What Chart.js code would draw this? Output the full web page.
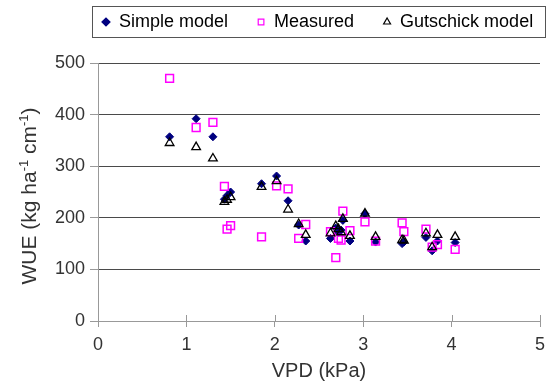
<!DOCTYPE html>
<html>
<head>
<meta charset="utf-8">
<script src="https://cdn.jsdelivr.net/npm/chart.js@4.4.1/dist/chart.umd.min.js"></script>
<style>
  body { margin: 0; background: #fff; }
  canvas { display: block; }
</style>
</head>
<body>
<canvas id="wuechart" width="547" height="383"></canvas>
<script>
// VPD (kPa) of each observation, shared by all three series
const vpd = [0.81, 1.11, 1.30, 1.43, 1.46, 1.50, 1.85, 2.02, 2.15, 2.27, 2.35, 2.63, 2.69,
             2.72, 2.75, 2.77, 2.85, 3.02, 3.14, 3.44, 3.46, 3.71, 3.78, 3.84, 4.04];

// WUE (kg ha-1 cm-1)
const simpleModel = [357, 392, 357, 236, 243, 250, 266, 281, 233, 186, 155, 160, 180,
                     172, 176, 195, 155, 208, 153, 150, 153, 162, 136, 155, 152];
const measured = [470, 375, 385, 261, 178, 185, 163, 262, 256, 160, 187, 173, 123,
                  160, 157, 213, 175, 192, 155, 190, 173, 178, 143, 148, 139];
const gutschickModel = [345, 337, 315, 231, 235, 240, 260, 271, 216, 188, 167, 170, 184,
                        178, 172, 198, 165, 208, 163, 157, 156, 170, 143, 167, 163];

const seriesNames = ['Simple model', 'Measured', 'Gutschick model'];
const xTicks = [0, 1, 2, 3, 4, 5];
const yTicks = [0, 100, 200, 300, 400, 500];

const fontFamily = '"Liberation Sans", Arial, sans-serif';
const textColor = '#333';
const axisColor = '#999';

function points(values) {
    return vpd.map(function (x, i) { return { x: x, y: values[i] }; });
}

// legend in a framed box above the plot
const boxLegend = {
    id: 'boxLegend',
    afterDraw: function (chart) {
        const ctx = chart.ctx;
        const area = chart.chartArea;
        ctx.save();
        ctx.strokeStyle = '#555';
        ctx.lineWidth = 1;
        ctx.strokeRect(area.left - 5.5, 6.5, chart.width - area.left + 4, 31);

        ctx.font = '18px ' + fontFamily;
        ctx.textBaseline = 'middle';
        ctx.textAlign = 'left';
        let x = area.left + 8;
        const y = 22;
        chart.data.datasets.forEach(function (ds) {
            ctx.fillStyle = ds.pointBackgroundColor;
            ctx.strokeStyle = ds.pointBorderColor;
            ctx.lineWidth = 1.2;
            Chart.helpers.drawPoint(ctx, {
                pointStyle: ds.pointStyle,
                radius: 4,
                rotation: 0,
                borderWidth: 1.2
            }, x, y);
            ctx.fillStyle = '#000';
            ctx.fillText(ds.label, x + 13, y);
            x += 13 + ctx.measureText(ds.label).width + 33;
        });
        ctx.restore();
    }
};

// y title with superscripts, and x ticks that cross the axis line
const axisExtras = {
    id: 'axisExtras',
    afterDraw: function (chart) {
        const ctx = chart.ctx;
        const area = chart.chartArea;
        const xs = chart.scales.x;
        ctx.save();
        ctx.strokeStyle = axisColor;
        ctx.lineWidth = 1;
        xs.ticks.forEach(function (t) {
            const px = Math.round(xs.getPixelForValue(t.value)) + 0.5;
            ctx.beginPath();
            ctx.moveTo(px, area.bottom - 6);
            ctx.lineTo(px, area.bottom);
            ctx.stroke();
        });

        const parts = [['WUE (kg ha', false], ['-1', true], [' cm', false], ['-1', true], [')', false]];
        const big = '21px ' + fontFamily;
        const small = '13px ' + fontFamily;
        let total = 0;
        parts.forEach(function (p) {
            ctx.font = p[1] ? small : big;
            total += ctx.measureText(p[0]).width;
        });
        ctx.translate(28, 196);
        ctx.rotate(-Math.PI / 2);
        ctx.fillStyle = textColor;
        ctx.textBaseline = 'alphabetic';
        ctx.textAlign = 'left';
        let cx = -total / 2;
        parts.forEach(function (p) {
            ctx.font = p[1] ? small : big;
            ctx.fillText(p[0], cx, p[1] ? 0 : 8);
            cx += ctx.measureText(p[0]).width;
        });
        ctx.restore();
    }
};

const ctx = document.getElementById('wuechart').getContext('2d');
new Chart(ctx, {
    type: 'scatter',
    data: {
        datasets: [{
            label: seriesNames[0],
            data: points(simpleModel),
            pointStyle: 'rectRot',
            pointRadius: 4,
            pointBorderWidth: 1,
            pointBackgroundColor: '#000080',
            pointBorderColor: '#000080',
            order: 3
        }, {
            label: seriesNames[1],
            data: points(measured),
            pointStyle: 'rect',
            pointRadius: 5.5,
            pointBorderWidth: 1.5,
            pointBackgroundColor: 'rgba(255,255,255,0)',
            pointBorderColor: '#ff00ff',
            order: 2
        }, {
            label: seriesNames[2],
            data: points(gutschickModel),
            pointStyle: 'triangle',
            pointRadius: 5,
            pointBorderWidth: 1.3,
            pointBackgroundColor: 'rgba(255,255,255,0)',
            pointBorderColor: '#000',
            order: 1
        }]
    },
    options: {
        responsive: false,
        animation: false,
        events: [],
        layout: { padding: { top: 63, right: 7, left: 0, bottom: 0 } },
        plugins: {
            legend: { display: false },
            tooltip: { enabled: false }
        },
        scales: {
            x: {
                type: 'linear',
                min: xTicks[0],
                max: xTicks[xTicks.length - 1],
                afterFit: function (scale) {
                    scale.height = 62;
                    scale.paddingLeft = 0;
                    scale.paddingRight = 0;
                },
                afterBuildTicks: function (scale) {
                    scale.ticks = xTicks.map(function (v) { return { value: v }; });
                },
                grid: {
                    drawOnChartArea: false,
                    drawTicks: true,
                    tickLength: 6,
                    color: axisColor,
                    tickColor: axisColor
                },
                border: { color: axisColor, width: 1 },
                ticks: {
                    padding: 7,
                    color: textColor,
                    font: { family: fontFamily, size: 18 }
                },
                title: {
                    display: true,
                    text: 'VPD (kPa)',
                    color: textColor,
                    font: { family: fontFamily, size: 20 },
                    padding: { top: 0, bottom: 0 }
                }
            },
            y: {
                min: yTicks[0],
                max: yTicks[yTicks.length - 1],
                afterFit: function (scale) { scale.width = 98; },
                afterBuildTicks: function (scale) {
                    scale.ticks = yTicks.map(function (v) { return { value: v }; });
                },
                grid: {
                    color: function (c) { return c.tick && c.tick.value === 0 ? 'rgba(0,0,0,0)' : '#4a4a4a'; },
                    tickColor: axisColor,
                    tickLength: 8,
                    lineWidth: 1
                },
                border: { color: axisColor, width: 1 },
                ticks: {
                    padding: 5,
                    color: textColor,
                    font: { family: fontFamily, size: 18 }
                }
            }
        }
    },
    plugins: [boxLegend, axisExtras]
});
</script>
</body>
</html>
